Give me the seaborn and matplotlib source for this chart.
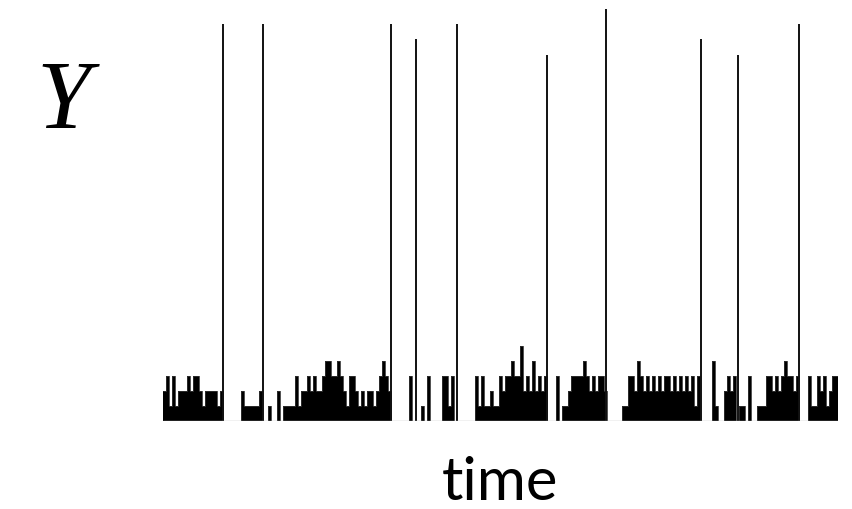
import numpy as np
import seaborn as sns
import matplotlib.pyplot as plt

# background activity level per time step
noise_a = [2, 3, 1, 3, 1, 2, 2, 2, 3, 2, 3, 3, 2, 1, 2, 2, 2, 2, 1, 2,
           0, 0, 0, 0, 0, 0, 2, 1, 1, 1, 1, 1, 2, 0, 0, 1, 0, 0, 2, 0,
           1, 1, 1, 1, 3, 1, 2, 2, 3, 2, 3, 2, 2, 3, 4]
noise_b = [4, 3, 3, 4, 3, 2, 1, 3, 3, 2, 1, 2, 1, 2, 2, 1, 2, 3, 4, 3,
           2, 0, 0, 0, 0, 0, 0, 3, 0, 0, 0, 1, 0, 3, 0, 0, 0, 0, 3, 3,
           1, 3, 0, 0, 0, 0, 0, 0, 0, 3, 1, 3, 1, 1, 2, 1]
noise_c = [1, 3, 2, 3, 3, 4, 3, 3, 5, 2, 3, 2, 4, 2, 3, 2, 3, 0, 0, 0,
           3, 0, 1, 1, 2, 3, 3, 3, 3, 4, 3, 2, 3, 2, 3, 3, 2, 0, 0, 0,
           0, 0, 1, 1, 3, 3, 2, 4, 3, 2, 3, 2, 3, 2, 3, 2]
noise_d = [3, 3, 2, 3, 2, 3, 2, 3, 2, 3, 1, 3, 0, 0, 0, 0, 4, 1, 0, 0,
           2, 3, 2, 3, 0, 1, 1, 0, 3, 0, 0, 1, 1, 1, 3, 3, 2, 3, 2, 3,
           4, 3, 3, 2, 3, 0, 0, 0, 3, 1, 1, 3, 2, 3, 1, 2, 3, 3]

# large events: time (in steps) and height
spike_t = [20.0, 33.3, 76.0, 84.3, 98.0, 128.0, 147.7, 179.3, 191.7, 212.0]
spike_h = [26.5, 26.5, 26.5, 25.5, 26.5, 24.4, 27.5, 25.5, 24.4, 26.5]

noise = noise_a + noise_b + noise_c + noise_d
t = np.arange(len(noise) + 1)
y = noise + [noise[-1]]

sns.set_style('white')
fig = plt.figure(figsize=(8.53, 5.09), dpi=100)
ax = fig.add_axes([163 / 853, 1 - 421 / 509, 675 / 853, 420 / 509])

ax.fill_between(t, y, step='post', color='black', linewidth=0)
sns.lineplot(x=t, y=y, drawstyle='steps-post', color='#333333',
             linewidth=0.6, ax=ax)
ax.vlines(spike_t, 0, spike_h, color='#111111', linewidth=1.4)
ax.axhline(0, color='#bbbbbb', linewidth=1.0)

ax.set_xlim(0, len(noise))
ax.set_ylim(0, 28)
ax.set_xticks([])
ax.set_yticks([])
ax.set_xlabel('')
ax.set_ylabel('')
for s in ax.spines.values():
    s.set_visible(False)
ax.patch.set_alpha(0)

fig.text(64 / 853, 1 - 128 / 509, 'Y', family='Liberation Serif',
         style='italic', fontsize=70, color='black',
         ha='center', va='baseline')
fig.text(500 / 853, 1 - 500 / 509, 'time', family='Lato',
         fontsize=43, color='black', ha='center', va='baseline')

fig.savefig('out.png', dpi=100)
